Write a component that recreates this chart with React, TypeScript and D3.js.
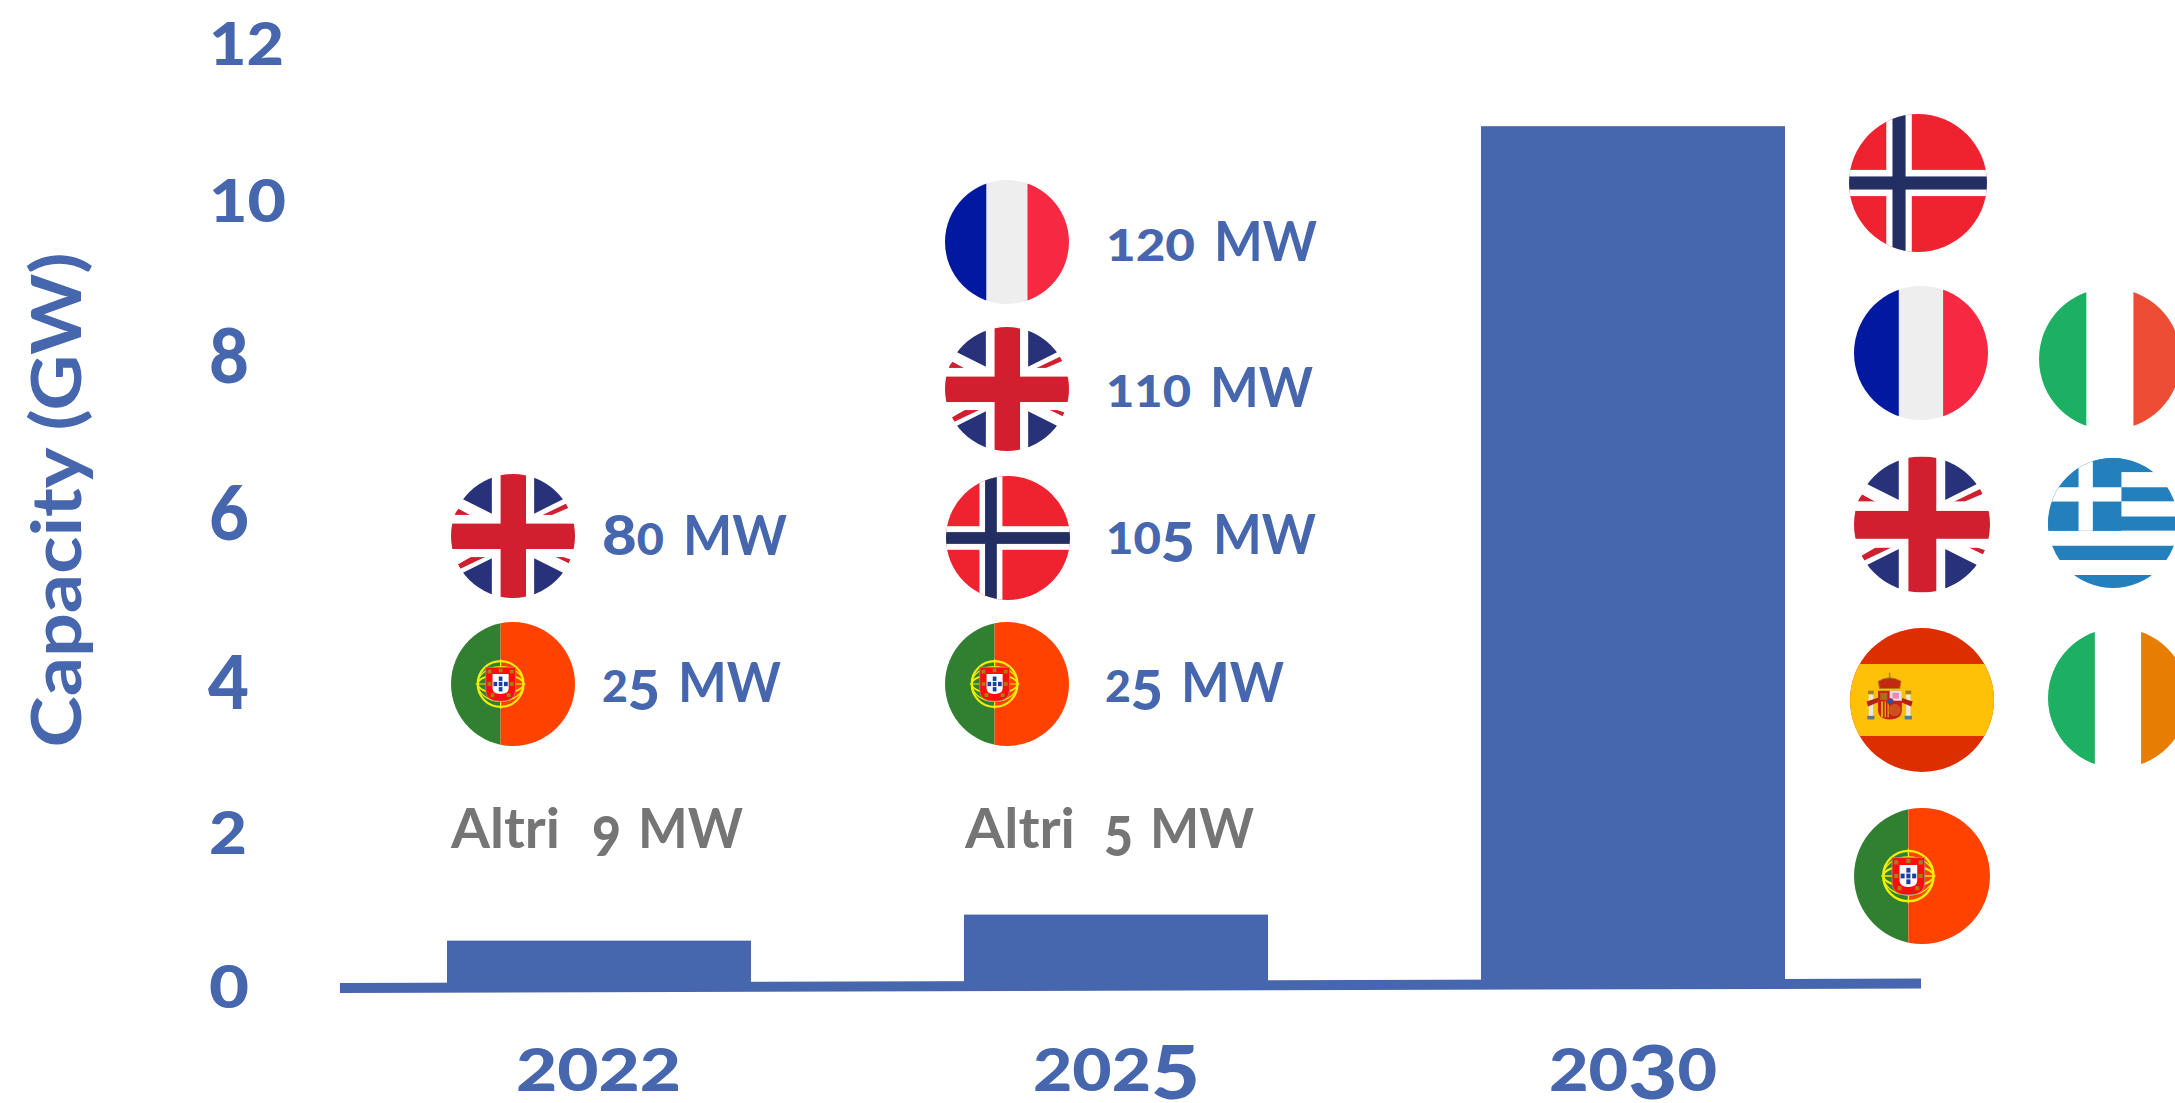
import React from "react";
import * as d3 from "d3";

const years = ["2022", "2025", "2030"];
const capacityGW = [0.65, 0.98, 10.96];
const axisTicks = [0, 2, 4, 6, 8, 10, 12];
const axisTilt = [0.05, 0.108]; // baseline height (GW) at its left and right end

const BLUE = "#4666ae";
const GREY = "#757575";
const FONT = "Lato, 'Open Sans', sans-serif";

const yScale = d3.scaleLinear().domain([0, 12]).range([992, 44]);
const xBand = d3.scaleBand().domain(years).range([447, 1785]).paddingInner(0.412).paddingOuter(0);
const xAxis = d3.scaleLinear().domain([0, 1]).range([340, 1921]);

type Label = { text: string; x: number; w: number; base: number; color?: string };

const tickWidths: Record<number, number> = { 0: 40, 2: 38, 4: 41, 6: 40, 8: 40, 10: 77, 12: 75 };
const tickBase: Record<number, number> = { 0: 1008, 2: 854, 4: 701, 6: 540, 8: 383, 10: 222, 12: 65 };

const capacityLabels: Label[] = [
  { text: "80", x: 602, w: 62, base: 555 },
  { text: "MW", x: 683, w: 104, base: 555 },
  { text: "25", x: 602, w: 58, base: 702 },
  { text: "MW", x: 678, w: 103, base: 702 },
  { text: "120", x: 1106, w: 89, base: 261 },
  { text: "MW", x: 1214, w: 103, base: 261 },
  { text: "110", x: 1106, w: 85, base: 407 },
  { text: "MW", x: 1210, w: 103, base: 407 },
  { text: "105", x: 1106, w: 89, base: 554 },
  { text: "MW", x: 1213, w: 103, base: 554 },
  { text: "25", x: 1105, w: 58, base: 702 },
  { text: "MW", x: 1181, w: 103, base: 702 },
];
const otherLabels: Label[] = [
  { text: "Altri", x: 451, w: 109, base: 848, color: GREY },
  { text: "9", x: 592, w: 29, base: 848, color: GREY },
  { text: "MW", x: 638, w: 105, base: 848, color: GREY },
  { text: "Altri", x: 965, w: 110, base: 848, color: GREY },
  { text: "5", x: 1104, w: 29, base: 848, color: GREY },
  { text: "MW", x: 1150, w: 104, base: 848, color: GREY },
];
const yearLabels: Label[] = [
  { text: "2022", x: 516, w: 165, base: 1091 },
  { text: "2025", x: 1033, w: 167, base: 1091 },
  { text: "2030", x: 1549, w: 168, base: 1091 },
];

type Flag = { code: string; cx: number; cy: number; r: number };
const flags: Flag[] = [
  { code: "uk", cx: 513, cy: 536, r: 62 },
  { code: "pt", cx: 513, cy: 684, r: 62 },
  { code: "fr", cx: 1007, cy: 242, r: 62 },
  { code: "uk", cx: 1007, cy: 389, r: 62 },
  { code: "no", cx: 1008, cy: 538, r: 62 },
  { code: "pt", cx: 1007, cy: 684, r: 62 },
  { code: "no", cx: 1918, cy: 183, r: 69 },
  { code: "fr", cx: 1921, cy: 353, r: 67 },
  { code: "uk", cx: 1922, cy: 524.5, r: 68 },
  { code: "es", cx: 1922, cy: 700, r: 72 },
  { code: "pt", cx: 1922, cy: 876, r: 68 },
  { code: "it", cx: 2110, cy: 359, r: 71 },
  { code: "gr", cx: 2113, cy: 523, r: 65 },
  { code: "ie", cx: 2118, cy: 698, r: 70 },
];

const R = (x: number, y: number, w: number, h: number, fill: string, k?: any) => (
  <rect key={k} x={x} y={y} width={w} height={h} fill={fill} />
);

function UK() {
  const navy = "#28327a";
  const red = "#d21f30";
  const sx = [1, -1];
  return (
    <g>
      {R(-1, -1, 2, 2, "#fff")}
      {sx.map((a) =>
        sx.map((b) => (
          <polygon key={`${a}${b}`} fill={navy}
            points={`${a * 0.34},${b * 0.36} ${a * 1.2},${b * 0.79} ${a * 1.2},${b * 1.2} ${a * 0.34},${b * 1.2}`} />
        ))
      )}
      <polygon fill={red} points=".46,-.33 .87,-.53 .89,-.45 .61,-.33" />
      <polygon fill={red} points=".69,.34 .81,.34 .93,.38 .90,.44" />
      <polygon fill={red} points="-.94,-.36 -.88,-.44 -.68,-.33 -.94,-.33" />
      <polygon fill={red} points="-.89,.46 -.85,.53 -.45,.34 -.68,.34" />
      {R(-0.34, -1, 0.68, 2, "#fff")}
      {R(-1, -0.34, 2, 0.68, "#fff")}
      {R(-0.2, -1, 0.41, 2, red)}
      {R(-1, -0.2, 2, 0.41, red)}
    </g>
  );
}

function PT() {
  const dots = [[0, -0.085], [-0.085, 0], [0, 0], [0.085, 0], [0, 0.085]];
  const castles = [[-0.18, -0.2], [0, -0.22], [0.18, -0.2], [-0.18, 0], [0.18, 0], [-0.13, 0.18], [0.13, 0.18]];
  return (
    <g>
      {R(-1, -1, 0.8, 2, "#317f31")}
      {R(-0.2, -1, 1.2, 2, "#ff4200")}
      <g transform="translate(-0.2,0)">
        <circle r={0.37} fill="none" stroke="#f4ee00" strokeWidth={0.035} />
        <ellipse rx={0.37} ry={0.15} fill="none" stroke="#f4ee00" strokeWidth={0.03} />
        <ellipse rx={0.37} ry={0.28} fill="none" stroke="#f4ee00" strokeWidth={0.02} />
        <path d="M-.4,0H.4M0,-.4V.4" stroke="#f4ee00" strokeWidth={0.02} />
        <path d="M-.24,-.27H.24V.1Q.24,.28 0,.28Q-.24,.28 -.24,.1Z" fill="#ff0d0d" stroke="#999" strokeWidth={0.012} />
        <path d="M-.13,-.16H.13V.07Q.13,.16 0,.16Q-.13,.16 -.13,.07Z" fill="#fff" />
        {castles.map(([x, y], i) => (
          <rect key={i} x={x - 0.03} y={y - 0.03} width={0.06} height={0.06} fill="#a8810c" />
        ))}
        {dots.map(([x, y], i) => (
          <rect key={i} x={x - 0.03} y={y - 0.035} width={0.06} height={0.07} fill="#1a3fa0" />
        ))}
      </g>
    </g>
  );
}

function TriColor({ a, b, c }: { a: string; b: string; c: string }) {
  return (
    <g>
      {R(-1, -1, 0.67, 2, a)}
      {R(-0.33, -1, 0.66, 2, b)}
      {R(0.33, -1, 0.67, 2, c)}
    </g>
  );
}

function NO() {
  return (
    <g>
      {R(-1, -1, 2, 2, "#ef2330")}
      {R(-0.46, -1, 0.37, 2, "#fff")}
      {R(-1, -0.19, 2, 0.38, "#fff")}
      {R(-0.37, -1, 0.19, 2, "#232f63")}
      {R(-1, -0.095, 2, 0.19, "#232f63")}
    </g>
  );
}

function GR() {
  const blue = "#2480bd";
  const rows = [
    [-1, -0.78, blue], [-0.78, -0.55, "#fff"], [-0.55, -0.33, blue], [-0.33, -0.1, "#fff"],
    [-0.1, 0.12, blue], [0.12, 0.35, "#fff"], [0.35, 0.57, blue], [0.57, 0.8, "#fff"], [0.8, 1, blue],
  ] as [number, number, string][];
  return (
    <g>
      {rows.map(([a, b, c], i) => R(-1, a, 2, b - a, c, i))}
      {R(-1, -1, 1.13, 1.12, blue)}
      {R(-0.53, -1, 0.22, 1.12, "#fff")}
      {R(-1, -0.55, 1.13, 0.22, "#fff")}
    </g>
  );
}

function ES() {
  return (
    <g>
      {R(-1, -1, 2, 2, "#dd2e00")}
      {R(-1, -0.5, 2, 1, "#ffc107")}
      <g transform="translate(-0.45,0)">
        {R(-0.29, -0.08, 0.06, 0.3, "#e8e8e8")}
        {R(0.23, -0.08, 0.06, 0.3, "#e8e8e8")}
        {R(-0.3, -0.13, 0.08, 0.05, "#a8810c")}
        {R(0.22, -0.13, 0.08, 0.05, "#a8810c")}
        {R(-0.31, 0.22, 0.1, 0.05, "#5a7a8c")}
        {R(0.21, 0.22, 0.1, 0.05, "#5a7a8c")}
        <path d="M-.32,.02L-.16,-.03L-.16,.03L-.3,.09Z M.32,.02L.16,-.03L.16,.03L.3,.09Z" fill="#b8200f" />
        <path d="M-.16,-.26Q0,-.36 .16,-.26L.14,-.16H-.14Z" fill="#c22a10" stroke="#a8810c" strokeWidth={0.012} />
        <path d="M0,-.3V-.38" stroke="#a8810c" strokeWidth={0.02} />
        <path d="M-.16,-.13H.17V.14Q.17,.27 0,.27Q-.16,.27 -.16,.14Z" fill="#c4201a" />
        {R(0, -0.13, 0.17, 0.14, "#e9dfe3")}
        {R(0.04, -0.1, 0.09, 0.08, "#e58ab0")}
        {R(-0.12, 0.02, 0.11, 0.22, "#e0a010")}
        {R(-0.09, 0.02, 0.02, 0.22, "#b8200f")}
        {R(-0.05, 0.02, 0.02, 0.22, "#b8200f")}
        {R(-0.13, -0.1, 0.1, 0.1, "#a8701a")}
        <circle cx={0.07} cy={0.14} r={0.085} fill="#d0501a" />
        <circle cx={0.01} cy={0.02} r={0.04} fill="#2a50a8" stroke="#c4201a" strokeWidth={0.012} />
      </g>
    </g>
  );
}

const flagArt: Record<string, () => any> = {
  uk: () => <UK />,
  pt: () => <PT />,
  fr: () => <TriColor a="#0019a0" b="#eeeeee" c="#f62842" />,
  it: () => <TriColor a="#1db063" b="#ffffff" c="#ed4c35" />,
  ie: () => <TriColor a="#1db063" b="#ffffff" c="#e87d03" />,
  no: () => <NO />,
  gr: () => <GR />,
  es: () => <ES />,
};

// Old-style figures: small 0 1 2, descending 3 4 5 7 9, tall 6 8
function digitStyle(ch: string, dropEm: number) {
  if ("012".includes(ch)) return { k: 0.78, drop: 0 };
  if ("34579".includes(ch)) return { k: 0.97, drop: dropEm };
  return { k: 1, drop: 0 };
}

function OldStyle({ label, size, weight = 700, dropEm = 0.145 }:
  { label: Label; size: number; weight?: number; dropEm?: number }) {
  let prev = 0;
  const parts = label.text.split("").map((ch, i) => {
    const isDigit = /[0-9]/.test(ch);
    const st = isDigit ? digitStyle(ch, dropEm) : { k: 1, drop: 0 };
    const drop = st.drop * size;
    const dy = drop - prev;
    prev = drop;
    return (
      <tspan key={i} fontSize={size * st.k} dy={dy}>
        {ch}
      </tspan>
    );
  });
  return (
    <text x={label.x} y={label.base} fontFamily={FONT} fontWeight={weight} fontSize={size}
      fill={label.color ?? BLUE} textLength={label.w} lengthAdjust="spacingAndGlyphs">
      {parts}
    </text>
  );
}

export default function App() {
  const axisLine = d3.line<number>()
    .x((_, i) => xAxis(i))
    .y((d) => yScale(d));
  const barBottom = yScale(axisTilt[0]);
  const isNumber = (l: Label) => /^[0-9]+$/.test(l.text);
  return (
    <svg width={2175} height={1103} viewBox="0 0 2175 1103"
      style={{ position: "absolute", left: 0, top: 0, background: "#fff", display: "block" }}>
      <defs>
        <clipPath id="unit-circle" clipPathUnits="userSpaceOnUse">
          <circle r={1} />
        </clipPath>
      </defs>

      <text transform="translate(81,500) rotate(-90)" textAnchor="middle" fontFamily={FONT} fontWeight={700}
        fontSize={68} fill={BLUE} textLength={495} lengthAdjust="spacingAndGlyphs">
        Capacity (GW)
      </text>

      {axisTicks.map((t) => (
        <OldStyle key={t} size={76} weight={900} dropEm={0.1}
          label={{ text: String(t), x: t === 4 ? 208 : 209, w: tickWidths[t], base: tickBase[t] }} />
      ))}

      <path d={axisLine(axisTilt) ?? ""} fill="none" stroke={BLUE} strokeWidth={10} />
      {years.map((yr, i) => (
        <rect key={yr} x={xBand(yr)} y={yScale(capacityGW[i])} width={xBand.bandwidth()}
          height={barBottom - yScale(capacityGW[i])} fill={BLUE} />
      ))}

      {yearLabels.map((l) => (
        <OldStyle key={l.text} label={l} size={76} weight={900} dropEm={0.11} />
      ))}

      {capacityLabels.map((l, i) => (
        <OldStyle key={i} label={l} size={56} weight={isNumber(l) ? 900 : 700} />
      ))}
      {otherLabels.map((l, i) => (
        <OldStyle key={i} label={l} size={56} weight={isNumber(l) ? 900 : 700} />
      ))}

      {flags.map((f, i) => (
        <g key={i} transform={`translate(${f.cx},${f.cy}) scale(${f.r})`}>
          <g clipPath="url(#unit-circle)">{flagArt[f.code]()}</g>
        </g>
      ))}
    </svg>
  );
}
